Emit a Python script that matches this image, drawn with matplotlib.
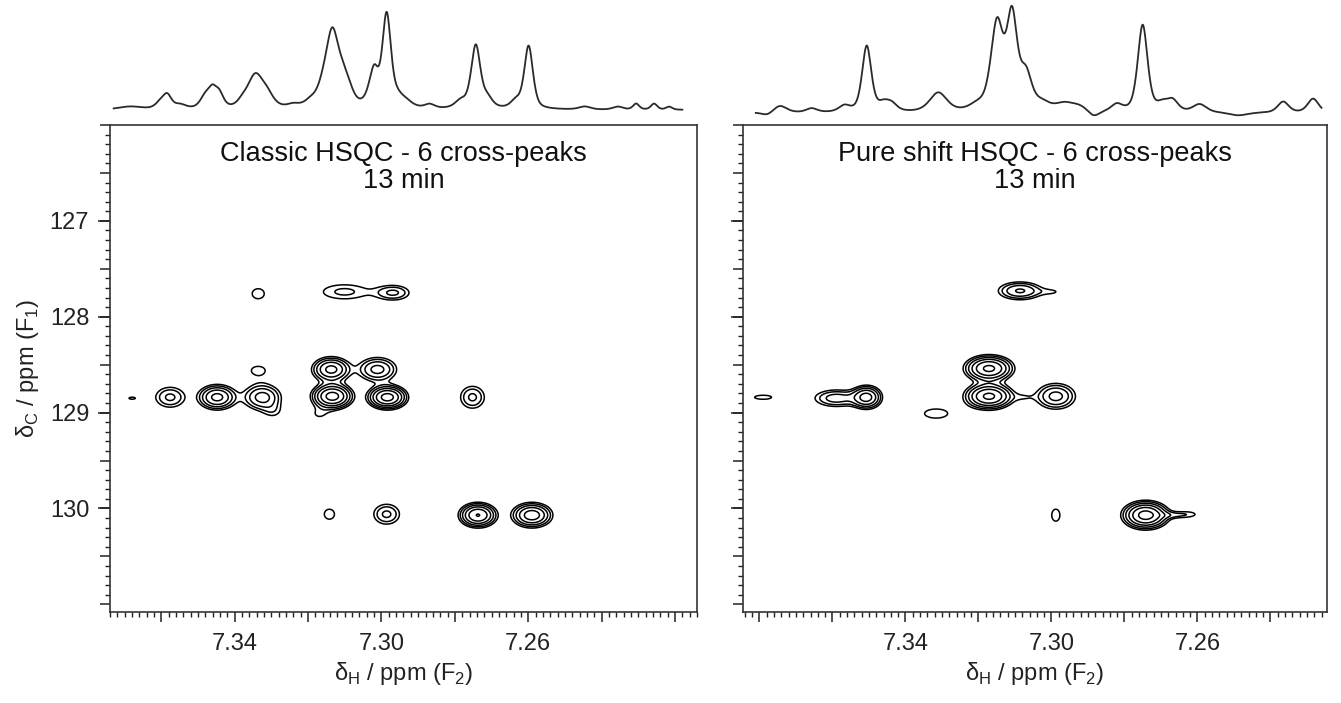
import numpy as np
import matplotlib
matplotlib.use('Agg')
import matplotlib.pyplot as plt
from matplotlib.ticker import MultipleLocator, FuncFormatter

plt.rcParams['font.family'] = ['Liberation Sans', 'DejaVu Sans']
plt.rcParams['mathtext.fontset'] = 'custom'
plt.rcParams['mathtext.rm'] = 'Liberation Sans'

# ---- 1D projections: peak position (ppm), height, half width (ppm)
classic_1d_ppm = [7.3685, 7.3603, 7.3584, 7.3549, 7.3481, 7.3461, 7.3442, 7.3380, 7.3344,
                  7.3311, 7.3240, 7.3194, 7.3161, 7.3134, 7.3106, 7.3090, 7.3030, 7.3019,
                  7.2986, 7.2956, 7.2932, 7.2869, 7.2784, 7.2743, 7.2711, 7.2634, 7.2599,
                  7.2446, 7.2356, 7.2306, 7.2257, 7.2216]
classic_1d_height = [3, 6, 13, 4, 11, 16, 13, 4, 33, 10, 3, 5, 12, 72, 17, 12, 10, 28,
                     92, 8, 5, 4, 7, 63, 9, 7, 63, 3, 3, 6, 6, 3]
classic_1d_hw = [0.0038, 0.0016, 0.0014, 0.0019, 0.0016, 0.0014, 0.0014, 0.0016, 0.0026,
                 0.0021, 0.0019, 0.0019, 0.0021, 0.0021, 0.0018, 0.0018, 0.0016, 0.0013,
                 0.0014, 0.0018, 0.0021, 0.0016, 0.0018, 0.0015, 0.0016, 0.0016, 0.0014,
                 0.0019, 0.0016, 0.0010, 0.0010, 0.0010]

pure_1d_ppm = [7.3778, 7.3744, 7.3657, 7.3567, 7.3506, 7.3460, 7.3438, 7.3310, 7.3203,
               7.3149, 7.3108, 7.3070, 7.3026, 7.2966, 7.2925, 7.2884, 7.2821, 7.2750,
               7.2696, 7.2668, 7.2594, 7.2488, 7.2365, 7.2283]
pure_1d_height = [-3, 7, 4, 6, 66, 7, 7, 19, 5, 86, 91, 34, 7, 7, 5, -6, 7, 87,
                  7, 11, 8, -3, 11, 14]
pure_1d_hw = [0.0018, 0.0022, 0.0018, 0.0018, 0.0015, 0.0018, 0.0018, 0.0028, 0.0025,
              0.0020, 0.0017, 0.0019, 0.0025, 0.0030, 0.0030, 0.0018, 0.0018, 0.0016,
              0.0018, 0.0018, 0.0022, 0.0030, 0.0018, 0.0018]

# ---- 2D cross-peaks: dH (ppm), dC (ppm), amplitude, width H (ppm), width C (ppm)
classic_dh = [7.3680, 7.3576, 7.3448, 7.3325, 7.3295, 7.3336, 7.3137, 7.3134, 7.3170,
              7.3011, 7.2984, 7.2752, 7.3336, 7.3101, 7.2967, 7.3142, 7.2986, 7.2737, 7.2590]
classic_dc = [128.85, 128.84, 128.84, 128.84, 128.99, 128.56, 128.55, 128.83, 129.02,
              128.55, 128.84, 128.84, 127.76, 127.74, 127.75, 130.06, 130.06, 130.07, 130.07]
classic_amp = [1.06, 2.3, 5.0, 3.6, 1.0, 1.15, 5.0, 7.5, 1.0,
               3.5, 7.5, 2.3, 1.2, 1.6, 2.2, 1.15, 2.3, 6.5, 5.5]
classic_wh = [0.0024, 0.0030, 0.0030, 0.0032, 0.0022, 0.0034, 0.0030, 0.0030, 0.0025,
              0.0033, 0.0029, 0.0025, 0.0027, 0.0059, 0.0033, 0.0026, 0.0027, 0.0028, 0.0031]
classic_wc = [0.030, 0.080, 0.075, 0.084, 0.062, 0.079, 0.075, 0.072, 0.060,
              0.079, 0.067, 0.088, 0.086, 0.075, 0.058, 0.098, 0.080, 0.070, 0.073]

pure_dh = [7.3790, 7.3506, 7.3590, 7.3316, 7.3171, 7.3171, 7.2988, 7.3075, 7.3086, 7.2995,
           7.2988, 7.2742, 7.2670, 7.2625]
pure_dc = [128.84, 128.84, 128.85, 129.01, 128.54, 128.83, 128.83, 128.84, 127.73, 127.74,
           130.07, 130.07, 130.07, 130.06]
pure_amp = [1.1, 5.0, 2.6, 1.2, 7.0, 7.0, 3.5, 0.75, 3.2, 0.9, 1.15, 7.5, 0.85, 1.1]
pure_wh = [0.0053, 0.0024, 0.0041, 0.0052, 0.0036, 0.0036, 0.0034, 0.0022, 0.0039, 0.0027,
           0.0021, 0.0034, 0.0030, 0.0030]
pure_wc = [0.048, 0.070, 0.062, 0.078, 0.074, 0.074, 0.085, 0.040, 0.061, 0.031,
           0.118, 0.078, 0.025, 0.035]

titles = ['Classic HSQC - 6 cross-peaks\n13 min', 'Pure shift HSQC - 6 cross-peaks\n13 min']
xlims = [(7.374, 7.214), (7.3845, 7.2245)]
trace_ranges = [(7.373, 7.218), (7.381, 7.226)]
ylim_c = (131.08, 126.0)
xtick_labels = [7.34, 7.30, 7.26]
ytick_labels = [127, 128, 129, 130]
levels = [1.45 ** k for k in range(8)]


def trace(x, pos, hts, hws):
    y = np.zeros_like(x)
    for p, h, w in zip(pos, hts, hws):
        u = (x - p) / w
        y += h * (0.5 / (1 + u ** 2) + 0.5 * np.exp(-np.log(2) * u ** 2))
    return y


def plane(H, C, dh, dc, amp, wh, wc):
    z = np.zeros_like(H)
    for a, b, A, sa, sb in zip(dh, dc, amp, wh, wc):
        z += A * np.exp(-0.5 * ((H - a) / sa) ** 2 - 0.5 * ((C - b) / sb) ** 2)
    return z


fig = plt.figure(figsize=(13.41, 7.03), dpi=100)
W, Hf = 1341, 703
boxes = [(110, 697), (743, 1327)]
sp_base = [(-12, 110), (-9, 113)]
data1d = [(classic_1d_ppm, classic_1d_height, classic_1d_hw),
          (pure_1d_ppm, pure_1d_height, pure_1d_hw)]
data2d = [(classic_dh, classic_dc, classic_amp, classic_wh, classic_wc),
          (pure_dh, pure_dc, pure_amp, pure_wh, pure_wc)]

hgrid = np.linspace(7.40, 7.20, 1000)
cgrid = np.linspace(125.9, 131.2, 800)
HH, CC = np.meshgrid(hgrid, cgrid)

for i in range(2):
    x0, x1 = boxes[i]
    ax = fig.add_axes([x0 / W, 1 - 612 / Hf, (x1 - x0) / W, 487 / Hf])
    z = plane(HH, CC, *data2d[i])
    ax.contour(HH, CC, z, levels=levels, colors='black', linewidths=1.1)
    ax.set_xlim(*xlims[i])
    ax.set_ylim(*ylim_c)

    ax.xaxis.set_major_locator(MultipleLocator(0.02))
    ax.xaxis.set_minor_locator(MultipleLocator(0.002))
    ax.xaxis.set_major_formatter(FuncFormatter(
        lambda v, p: f'{v:.2f}' if any(abs(v - t) < 1e-6 for t in xtick_labels) else ''))
    ax.yaxis.set_major_locator(MultipleLocator(0.5))
    ax.yaxis.set_minor_locator(MultipleLocator(0.1))
    ax.yaxis.set_major_formatter(FuncFormatter(
        lambda v, p: f'{v:.0f}' if any(abs(v - t) < 1e-6 for t in ytick_labels) else ''))
    ax.tick_params(which='major', direction='out', length=7, width=1.1, labelsize=17,
                   colors='#222222', pad=8)
    ax.tick_params(which='minor', direction='out', length=3.5, width=1.0, colors='#222222')
    if i == 1:
        ax.tick_params(labelleft=False)
    for s in ax.spines.values():
        s.set_linewidth(1.2)
        s.set_color('#333333')

    sec = ax.secondary_yaxis('left')
    sec.set_yticks(ytick_labels)
    sec.tick_params(length=9, width=1.1, labelleft=False, colors='#222222')
    sec.spines['left'].set_visible(False)

    ax.set_xlabel('δ$_\\mathregular{H}$ / ppm (F$_\\mathregular{2}$)', fontsize=17,
                  color='#222222', labelpad=4)
    if i == 0:
        ax.set_ylabel('δ$_\\mathregular{C}$ / ppm (F$_\\mathregular{1}$)', fontsize=17,
                      color='#222222', labelpad=6)
    ax.text(0.5, 0.968, titles[i], transform=ax.transAxes, ha='center', va='top',
            fontsize=19.5, color='#111111', linespacing=1.05)

    sp = fig.add_axes([x0 / W, 1 - 122 / Hf, (x1 - x0) / W, 122 / Hf])
    xs = np.linspace(trace_ranges[i][0], trace_ranges[i][1], 1500)
    sp.plot(xs, trace(xs, *data1d[i]), color='#2a2a2a', lw=1.3)
    sp.set_xlim(*xlims[i])
    sp.set_ylim(*sp_base[i])
    sp.axis('off')

fig.savefig('out.png', dpi=100)
